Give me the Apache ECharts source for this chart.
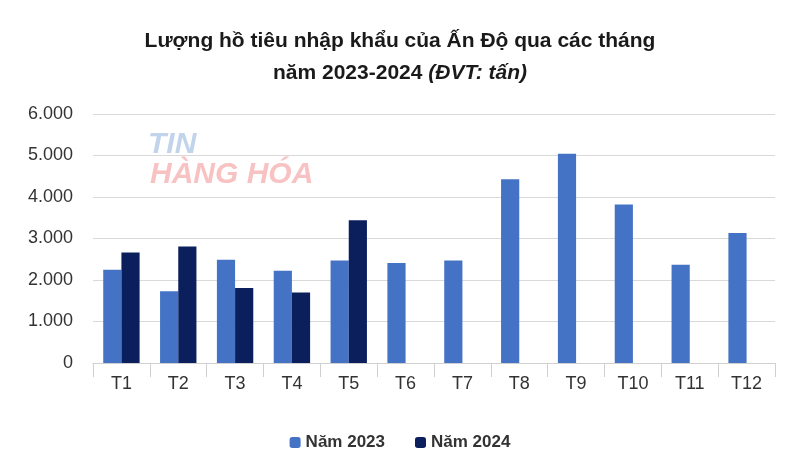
<!DOCTYPE html>
<html>
<head>
    <meta charset="utf-8">
    <script src="https://cdn.jsdelivr.net/npm/echarts@6/dist/echarts.min.js"></script>
</head>
<style type="text/css">
    body { margin: 0; background: #fff; }
    #chart { width: 800px; height: 476px; }
</style>
<body>
    <div id="chart"></div>
</body>
</html>

<script type="text/javascript">
    let months = ['T1', 'T2', 'T3', 'T4', 'T5', 'T6', 'T7', 'T8', 'T9', 'T10', 'T11', 'T12']
    let y2023 = [2250, 1730, 2490, 2220, 2470, 2410, 2470, 4430, 5040, 3820, 2370, 3130]
    let y2024 = [2660, 2810, 1810, 1700, 3440, null, null, null, null, null, null, null]
    let yTicks = [0, 1000, 2000, 3000, 4000, 5000, 6000]

    function fmt(v) {
        return v.toLocaleString('de-DE')
    }

    let myChart = echarts.init(document.getElementById('chart'))
    let font = 'Liberation Sans, Arial, sans-serif'

    let option = {
        animation: false,
        textStyle: { fontFamily: font },
        title: {
            text: 'Lượng hồ tiêu nhập khẩu của Ấn Độ qua các tháng\n{b|năm 2023-2024 }{i|(ĐVT: tấn)}',
            left: 'center',
            top: 20,
            textStyle: {
                fontSize: 21, fontWeight: 'bold', color: '#1a1a1a', lineHeight: 32,
                rich: {
                    b: { fontSize: 21, fontWeight: 'bold', color: '#1a1a1a' },
                    i: { fontSize: 21, fontStyle: 'italic', color: '#1a1a1a' }
                }
            }
        },
        graphic: [{
            type: 'text', left: 148, top: 130,
            style: { text: 'TIN', fontSize: 30, fontWeight: 'bold', fontStyle: 'italic', fill: 'rgba(120,160,210,0.45)' }
        }, {
            type: 'text', left: 150, top: 160,
            style: { text: 'HÀNG HÓA', fontSize: 30, fontWeight: 'bold', fontStyle: 'italic', fill: 'rgba(240,120,120,0.45)' }
        }],
        legend: {
            bottom: 20,
            itemWidth: 11, itemHeight: 11, itemGap: 30,
            textStyle: { fontSize: 17, fontWeight: 'bold', color: '#333' },
            data: ['Năm 2023', 'Năm 2024']
        },
        grid: { left: 93, right: 25, top: 114, bottom: 113 },
        xAxis: {
            type: 'category',
            data: months,
            axisLine: { lineStyle: { color: '#d0d0d0' } },
            axisTick: { show: true, length: 14, lineStyle: { color: '#d0d0d0' } },
            axisLabel: { fontSize: 18, color: '#333', margin: 12 }
        },
        yAxis: {
            type: 'value',
            min: yTicks[0],
            max: yTicks[yTicks.length - 1],
            interval: 1000,
            axisLabel: { fontSize: 18, color: '#333', margin: 20, formatter: fmt },
            splitLine: { lineStyle: { color: '#d9d9d9' } }
        },
        series: [
            {
                name: 'Năm 2023',
                type: 'bar',
                data: y2023,
                barWidth: '32%',
                barGap: '0%',
                itemStyle: { color: '#4472C4' }
            },
            {
                name: 'Năm 2024',
                type: 'bar',
                data: y2024,
                barWidth: '32%',
                itemStyle: { color: '#0B1F5C' }
            }
        ]
    }

    myChart.setOption(option)
</script>
